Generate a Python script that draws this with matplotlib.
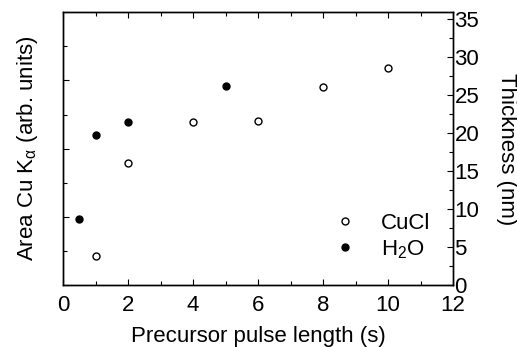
import matplotlib
matplotlib.use("Agg")
import matplotlib.pyplot as plt
from matplotlib.ticker import MultipleLocator

plt.rcParams['font.family'] = ['Liberation Sans', 'DejaVu Sans']
plt.rcParams['mathtext.fontset'] = 'custom'
plt.rcParams['mathtext.rm'] = 'Liberation Sans'
plt.rcParams['mathtext.it'] = 'Liberation Sans:italic'
plt.rcParams['mathtext.default'] = 'regular'

# pulse length (s) and thickness (nm)
cucl_x = [1, 2, 4, 6, 8, 10]
cucl_y = [3.8, 16.1, 21.5, 21.6, 26.0, 28.5]
h2o_x = [0.5, 1, 2, 5]
h2o_y = [8.7, 19.8, 21.5, 26.2]

fig = plt.figure(figsize=(5.17, 3.47), dpi=100)
ax = fig.add_axes([0.1219, 0.1787, 0.7544, 0.7859])
ax2 = ax.twinx()

fs = 16

# left axis: arbitrary units, no labels
ax.set_xlim(0, 12)
ax.set_ylim(0, 8)
ax.xaxis.set_major_locator(MultipleLocator(2))
ax.xaxis.set_minor_locator(MultipleLocator(1))
ax.yaxis.set_major_locator(MultipleLocator(2))
ax.yaxis.set_minor_locator(MultipleLocator(1))
ax.tick_params(which='both', direction='in', top=True, right=False, labelsize=fs)
ax.tick_params(which='major', length=4.5, width=0.8)
ax.tick_params(which='minor', length=3, width=0.8)
ax.tick_params(axis='x', pad=7)
ax.set_yticklabels([])
ax.set_xlabel('Precursor pulse length (s)', fontsize=fs, labelpad=7.5)
ax.set_ylabel(r'Area Cu K$_\alpha$ (arb. units)', fontsize=fs)
ax.yaxis.set_label_coords(-0.058, 0.5)

# right axis: thickness
ax2.set_ylim(0, 35.9)
ax2.yaxis.set_major_locator(MultipleLocator(5))
ax2.yaxis.set_minor_locator(MultipleLocator(2.5))
ax2.tick_params(which='both', direction='in', labelsize=fs, pad=1)
ax2.tick_params(which='major', length=4.5, width=0.8)
ax2.tick_params(which='minor', length=3, width=0.8)
ax2.set_ylabel('Thickness (nm)', fontsize=fs, rotation=270, va='bottom')
ax2.yaxis.set_label_coords(1.11, 0.5)

for a in (ax, ax2):
    for s in a.spines.values():
        s.set_linewidth(1.0)

ax2.plot(cucl_x, cucl_y, 'o', ms=5, mfc='white', mec='black', mew=1.0,
         ls='none', label='CuCl')
ax2.plot(h2o_x, h2o_y, 'o', ms=5, mfc='black', mec='black', mew=1.0,
         ls='none', label='H$_2$O')

ax2.legend(loc='center', bbox_to_anchor=(0.818, 0.177), frameon=False,
           fontsize=fs, handlelength=1, handletextpad=1.1, labelspacing=0.2,
           borderpad=0)

fig.savefig('out.png', dpi=100)
